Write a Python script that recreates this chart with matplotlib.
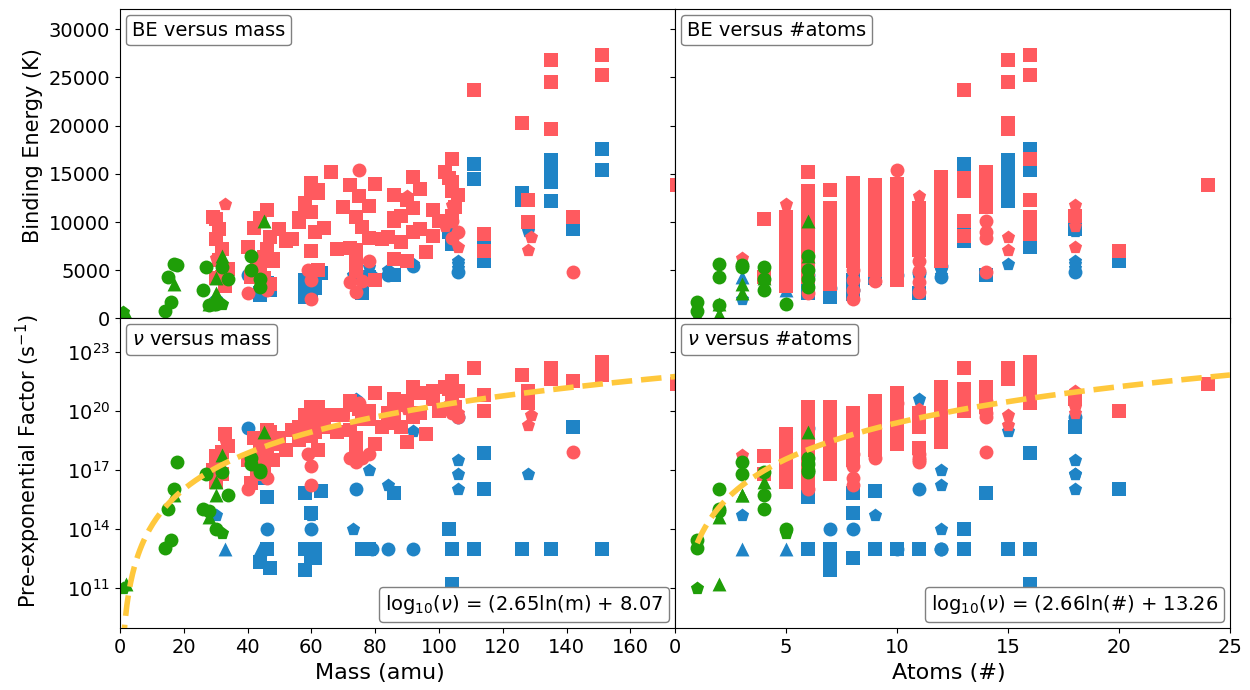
import numpy as np
import matplotlib
matplotlib.use("Agg")
import matplotlib.pyplot as plt
from matplotlib.offsetbox import AnchoredText

# ---- data: one entry per species ----
# red set  (mass in amu, number of atoms, binding energy in K, log10 of nu)
red_mass = [30,
            30, 32,
            33, 29, 31, 30, 32, 31, 34, 30, 33,
            66, 60, 58, 46, 44, 42, 47, 40, 45, 43, 41, 40,
            62, 58, 56, 50, 54, 46, 48, 44, 45, 47,
            60, 62, 58, 60, 56, 61, 52, 60, 48, 59, 60, 46, 60,
            72, 75, 70, 74, 64, 78, 68, 74, 62, 76,
            75, 80, 86, 78, 88, 76, 84, 72, 86, 74, 80,
            90, 92, 86, 94, 82, 74, 78, 74, 72, 74,
            92, 94, 90, 98, 86, 92, 88, 96, 90,
            111, 103, 104, 100, 98,
            102, 104, 106, 105, 104, 106, 104, 142,
            135, 135, 135, 126, 129, 128,
            151, 151, 104, 128, 128, 114, 142,
            104, 104, 102, 106,
            114,
            174.5]
red_atoms = [3,
             4, 4,
             5, 5, 5, 5, 5, 5, 5, 5, 5,
             6, 6, 6, 6, 6, 6, 6, 6, 6, 6, 6, 6,
             7, 7, 7, 7, 7, 7, 7, 7, 7, 7,
             8, 8, 8, 8, 8, 8, 8, 8, 8, 8, 8, 8, 8,
             9, 9, 9, 9, 9, 9, 9, 9, 9, 9,
             10, 10, 10, 10, 10, 10, 10, 10, 10, 10, 10,
             11, 11, 11, 11, 11, 11, 11, 11, 11, 11,
             12, 12, 12, 12, 12, 12, 12, 12, 12,
             13, 13, 13, 13, 13,
             14, 14, 14, 14, 14, 14, 14, 14,
             15, 15, 15, 15, 15, 15,
             16, 16, 16, 16, 16, 16, 16,
             18, 18, 18, 18,
             20,
             24]
red_be = [6300,
          10300, 4300,
          11900, 10500, 9300, 8200, 7200, 6100, 5100, 4200, 3400,
          15200, 13200, 12000, 11200, 10400, 9400, 8400, 7400, 6400, 5300, 4300, 2600,
          13300, 11500, 10400, 9300, 8200, 7200, 6200, 5200, 4200, 3600,
          14100, 13000, 12000, 11000, 10000, 9000, 8000, 7000, 6000, 5000, 4000, 3000, 2000,
          13800, 12700, 11600, 10500, 9400, 8300, 7200, 6100, 5000, 3900,
          15350, 13900, 12800, 11700, 10600, 9500, 8400, 7300, 6200, 5100, 4000,
          12750, 11500, 10400, 9300, 8200, 7100, 6000, 4900, 3800, 2700,
          14700, 13400, 12300, 11200, 10100, 9000, 7900, 6900, 6000,
          23700, 14600, 13200, 10100, 8500,
          15200, 14200, 12800, 11600, 10100, 9000, 8300, 4800,
          26800, 24500, 19700, 20300, 8400, 7100,
          27300, 25200, 16500, 12300, 10000, 8800, 10500,
          11800, 10600, 9600, 7400,
          7000,
          13800]
red_lognu = [17.75,
             17.7, 16.8,
             18.5, 17.0, 17.4, 16.5, 17.9, 16.9, 18.2, 16.4, 18.8,
             19.8, 20.2, 19.5, 19.0, 18.0, 18.6, 18.9, 17.5, 18.2, 17.0, 16.3, 16.0,
             20.2, 19.8, 19.2, 18.6, 19.0, 17.8, 18.3, 17.3, 16.8, 17.5,
             19.9, 19.5, 19.0, 19.6, 18.5, 18.9, 18.0, 18.7, 17.5, 17.8, 17.2, 16.6, 16.2,
             20.5, 20.1, 19.8, 20.3, 19.2, 19.6, 18.9, 18.4, 18.0, 17.6,
             20.4, 20.9, 20.6, 20.0, 20.3, 19.6, 19.9, 19.0, 19.4, 18.6, 18.3,
             20.1, 19.8, 19.5, 19.9, 19.2, 18.1, 17.8, 17.4, 17.6, 17.5,
             21.2, 20.9, 20.5, 21.0, 20.1, 19.7, 19.2, 18.8, 18.4,
             22.2, 21.1, 20.5, 20.0, 20.6,
             21.2, 20.8, 21.0, 20.2, 20.5, 19.7, 19.9, 17.9,
             22.2, 21.75, 21.6, 21.8, 19.8, 19.3,
             22.5, 21.8, 21.5, 21.0, 20.4, 20.8, 21.5,
             21.0, 20.6, 20.2, 19.9,
             20.0,
             21.35]
red_marker = ("p" + "ss" + "psssssss" + "s" + "sssssssssss" + "o"
              + "ssssssssss" + "sssssssss" + "oooo" + "sssssssss" + "o"
              + "o" + "ssssssssss" + "p" + "sssss" + "oooo" + "sssssssss"
              + "sssss" + "ssss" + "ooo" + "o" + "ssss" + "pp" + "sssssss"
              + "pspp" + "s" + "s")

# blue set
blue_mass = [33, 30,
             44,
             44, 46, 46, 40,
             58, 61, 58, 46, 44, 47,
             58, 60, 60, 60,
             63, 60, 61,
             84, 78,
             74, 74, 76,
             78, 84, 73, 92, 79,
             111, 111, 103, 104,
             86,
             135, 135, 135, 135, 126, 126, 92,
             151, 151, 104, 114,
             106, 106, 106, 106, 128, 142,
             114]
blue_atoms = [3, 3,
              5,
              6, 6, 6, 6,
              7, 7, 7, 7, 7, 7,
              8, 8, 8, 8,
              9, 9, 9,
              10, 10,
              11, 11, 11,
              12, 12, 12, 12, 12,
              13, 13, 13, 13,
              14,
              15, 15, 15, 15, 15, 15, 15,
              16, 16, 16, 16,
              18, 18, 18, 18, 18, 18,
              20]
blue_be = [4300, 2000,
           3000,
           2600, 3700, 3500, 4500,
           2200, 3200, 2700, 3200, 2400, 2900,
           4000, 3400, 3000, 2500,
           4700, 4400, 4200,
           4500, 4300,
           4700, 4200, 2600,
           5300, 5000, 4500, 5400, 4300,
           16000, 14500, 9000, 8000,
           4500,
           16400, 15000, 14200, 12200, 13000, 12300, 5600,
           17600, 15400, 7700, 7450,
           6000, 5200, 5600, 4800, 9100, 9300,
           6000]
blue_lognu = [12.95, 14.7,
              12.95,
              16.6, 15.6, 12.95, 19.1,
              12.95, 12.5, 11.9, 14.0, 12.3, 12.0,
              15.8, 14.8, 14.0, 12.5,
              15.9, 14.7, 12.95,
              12.95, 12.95,
              16.0, 20.6, 12.95,
              17.0, 16.2, 14.0, 12.95, 12.95,
              12.95, 12.95, 14.0, 12.95,
              15.8,
              12.95, 12.95, 12.95, 12.95, 12.95, 12.95, 18.95,
              12.95, 12.95, 11.2, 17.85,
              17.5, 16.8, 16.0, 19.7, 16.8, 19.2,
              16.0]
blue_marker = ("^p" + "^" + "ssso" + "sssoss" + "ssos" + "sps" + "os"
               + "ops" + "pppo" + "o" + "ssss" + "s" + "ssssss" + "p"
               + "ssss" + "pppops" + "s")

# green set
green_mass = [1, 14, 16,
              2, 17, 15, 28, 28,
              18, 27, 17, 30,
              30, 26, 32, 34,
              30, 32,
              45, 41, 41, 44, 44, 32]
green_atoms = [1, 1, 1,
               2, 2, 2, 2, 2,
               3, 3, 3, 3,
               4, 4, 4, 4,
               5, 5,
               6, 6, 6, 6, 6, 6]
green_be = [650, 800, 1700,
            450, 5650, 4260, 1500, 1400,
            5500, 5300, 3600, 2600,
            4200, 2900, 5300, 4100,
            1500, 1500,
            10150, 6500, 5000, 4100, 3300, 6500]
green_lognu = [11.0, 13.0, 13.4,
               11.2, 16.0, 15.0, 14.6, 14.9,
               17.4, 16.8, 15.7, 15.7,
               16.4, 15.0, 16.9, 15.7,
               14.0, 13.8,
               18.9, 17.6, 17.3, 17.0, 16.9, 17.75]
green_marker = "poo" + "^oo^o" + "oo^^" + "^ooo" + "op" + "^oooo^"

# fits shown in the lower panels: log10(nu) = a ln(x) + b
fit_mass = (2.65, 8.07)
fit_atoms = (2.66, 13.26)

# ---- figure ----
RED = "#ff5a5f"
BLUE = "#1f84c6"
GREEN = "#1f9e08"
YELLOW = "#ffc83c"

fig, axes = plt.subplots(2, 2, figsize=(12.5, 6.9), dpi=100,
                         sharex="col", sharey="row")
fig.subplots_adjust(left=0.096, right=0.984, top=0.987, bottom=0.09,
                    hspace=0, wspace=0)

sets = [(blue_mass, blue_atoms, blue_be, blue_lognu, blue_marker, BLUE),
        (red_mass, red_atoms, red_be, red_lognu, red_marker, RED),
        (green_mass, green_atoms, green_be, green_lognu, green_marker, GREEN)]

for mass, atoms, be, lognu, mk, col in sets:
    mass = np.array(mass, dtype=float)
    atoms = np.array(atoms, dtype=float)
    be = np.array(be, dtype=float)
    nu = 10.0 ** np.array(lognu, dtype=float)
    mk = np.array(list(mk))
    for m in "so^p":
        sel = mk == m
        if not sel.any():
            continue
        kw = dict(marker=m, s=100, color=col, linewidths=0, zorder=2)
        axes[0, 0].scatter(mass[sel], be[sel], **kw)
        axes[0, 1].scatter(atoms[sel], be[sel], **kw)
        axes[1, 0].scatter(mass[sel], nu[sel], **kw)
        axes[1, 1].scatter(atoms[sel], nu[sel], **kw)

xm = np.linspace(1, 175, 300)
axes[1, 0].plot(xm, 10 ** (fit_mass[0] * np.log(xm) + fit_mass[1]),
                ls="--", lw=4, color=YELLOW, zorder=3)
xa = np.linspace(1, 25, 200)
axes[1, 1].plot(xa, 10 ** (fit_atoms[0] * np.log(xa) + fit_atoms[1]),
                ls="--", lw=4, color=YELLOW, zorder=3)

axes[1, 0].set_yscale("log")
axes[1, 0].set_yticks([1e11, 1e14, 1e17, 1e20, 1e23])
axes[1, 0].minorticks_off()
axes[0, 0].set_ylim(0, 32100)
axes[1, 0].set_ylim(10 ** 8.95, 10 ** 24.7)
axes[0, 0].set_xlim(0, 174)
axes[0, 1].set_xlim(0, 25)

axes[0, 0].set_ylabel("Binding Energy (K)", fontsize=15)
axes[1, 0].set_ylabel("Pre-exponential Factor (s$^{-1}$)", fontsize=15)
axes[1, 0].set_xlabel("Mass (amu)", fontsize=16)
axes[1, 1].set_xlabel("Atoms (#)", fontsize=16)
axes[0, 0].yaxis.set_label_coords(-0.138, 0.56)
axes[1, 0].yaxis.set_label_coords(-0.138, 0.54)
axes[1, 0].xaxis.set_label_coords(0.468, -0.112)
axes[1, 1].xaxis.set_label_coords(0.493, -0.112)

for ax in axes.flat:
    ax.tick_params(labelsize=14)

titles = [(axes[0, 0], "BE versus mass"), (axes[0, 1], "BE versus #atoms"),
          (axes[1, 0], r"$\nu$ versus mass"), (axes[1, 1], r"$\nu$ versus #atoms")]
eqs = [(axes[1, 0], r"log$_{10}$($\nu$) = (%.2fln(m) + %.2f" % fit_mass),
       (axes[1, 1], r"log$_{10}$($\nu$) = (%.2fln(#) + %.2f" % fit_atoms)]

for (ax, t), loc in [(x, "upper left") for x in titles] + [(x, "lower right") for x in eqs]:
    at = AnchoredText(t, loc=loc, prop=dict(size=14), frameon=True,
                      pad=0.3, borderpad=0.3)
    at.patch.set_boxstyle("round,pad=0.,rounding_size=0.2")
    at.patch.set_edgecolor("0.5")
    at.zorder = 5
    ax.add_artist(at)

fig.savefig("out.png", dpi=100)
